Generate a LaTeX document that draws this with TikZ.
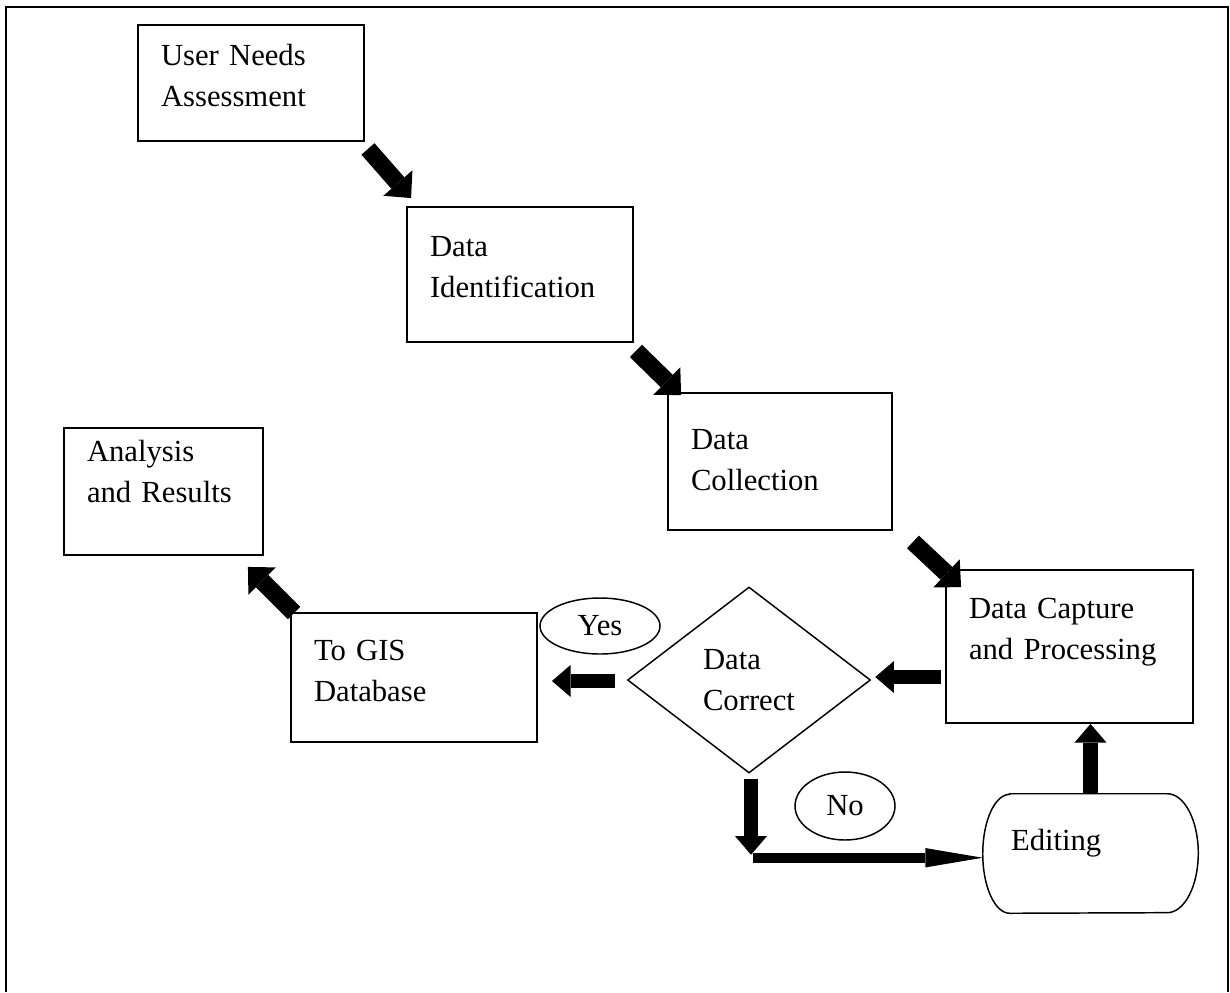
\documentclass[tikz,border=0pt]{standalone}
\usepackage{fontspec}
\setmainfont{Liberation Serif}
\usetikzlibrary{shapes.geometric,arrows.meta,calc}
\begin{document}
\begin{tikzpicture}[x=0.75pt,y=-0.75pt,font=\fontsize{23}{30.75}\selectfont,
stage/.style={draw,line width=1.4pt,rectangle,align=left,inner xsep=17.25pt,inner ysep=0pt,text height=0pt},
tag/.style={draw,line width=1.1pt,ellipse,inner sep=0pt},
blk/.style={line width=11pt,-{Triangle[width=24pt,length=14pt,line width=0pt]}},
dblk/.style={line width=13pt,-{Triangle[width=29pt,length=15pt,line width=0pt]}},
lng/.style={line width=7.5pt,-{Triangle[width=14.5pt,length=43pt,line width=0pt]}}]
\useasboundingbox (0,0) rectangle (1230,992);
\draw[line width=1.5pt] (6,992) -- (6,7) -- (1228,7) -- (1228,992);
\node[stage,text width=135pt,minimum height=87pt,text depth=25.8pt] (user) at (251,83) {User Needs\\Assessment};
\node[stage,text width=135pt,minimum height=101.25pt,text depth=27.3pt] (ident) at (520,274.5) {Data\\Identification};
\node[stage,text width=133.5pt,minimum height=102.75pt,text depth=18.3pt] (coll) at (780,461.5) {Data\\Collection};
\node[stage,text width=150.75pt,minimum height=114.75pt,text depth=42.75pt] (capture) at (1069.5,646.5) {Data Capture\\and Processing};
\node[draw,line width=1.1pt,diamond,aspect=1.3,minimum width=182.25pt,minimum height=139.5pt,inner sep=0pt,align=left] (dec) at (749,680) {Data\\Correct};
\node[stage,text width=150pt,minimum height=96.75pt,text depth=25.8pt] (gis) at (414,677.5) {To GIS\\Database};
\node[stage,text width=114.75pt,minimum height=95.25pt,text depth=45.75pt] (ana) at (163.5,491.5) {Analysis\\and Results};
\node[tag,minimum width=90pt,minimum height=42pt] (yes) at (600,626) {Yes};
\node[tag,minimum width=75pt,minimum height=51pt] (no) at (845,806) {No};
\node[minimum width=161.25pt,minimum height=89.25pt,inner xsep=21pt,text width=119.25pt,align=left,text height=0pt,text depth=4.35pt] (edit) at (1090.5,853.5) {Editing};
\draw[line width=1.1pt] ($(edit.north west)+(27,0)$) -- ($(edit.north east)+(-31,0)$)
  arc[start angle=90,end angle=-90,x radius=23.25pt,y radius=44.6pt] -- ($(edit.south west)+(27,0)$)
  arc[start angle=270,end angle=90,x radius=20.25pt,y radius=44.6pt] -- cycle;
\coordinate (turn) at ($(dec.south)+(2,84)$);
\draw[dblk] ($(user.south east)+(3,7)$) -- ($(ident.north west)+(5,-8)$);
\draw[dblk] ($(ident.south east)+(2,8)$) -- ($(coll.north west)+(14,3)$);
\draw[dblk] ($(coll.south east)+(20,11)$) -- ($(capture.north west)+(16,18)$);
\draw[blk] ($(dec.east -| capture.west)+(-4,-3)$) -- ($(dec.east)+(4,-3)$);
\draw[blk] ($(dec.west)+(-12,1)$) -- ($(gis.east |- dec.west)+(14,1)$);
\draw[dblk] ($(gis.north west)+(4,1)$) -- ($(ana.south east)+(-16,11)$);
\draw[blk] (edit.north) -- (edit.north |- capture.south);
\draw[blk] ($(dec.south)+(2,5)$) -- ($(turn)+(0,-3)$);
\draw[lng] ($(turn)+(2,0)$) -- (turn -| edit.west);
\end{tikzpicture}
\end{document}
